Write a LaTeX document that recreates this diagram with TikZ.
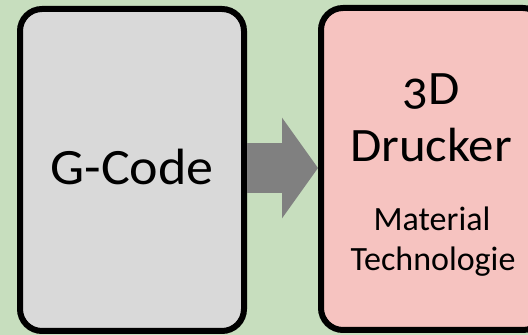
\documentclass[tikz,border=0pt]{standalone}
\usepackage{fontspec}
\setmainfont{Carlito}
\usetikzlibrary{arrows.meta}
\definecolor{bggreen}{HTML}{C7DEBE}
\definecolor{boxgray}{HTML}{D9D9D9}
\definecolor{boxpink}{HTML}{F6C3C0}
\definecolor{arrowgray}{HTML}{808080}
\newcommand{\widetext}[1]{\scalebox{1.06}[1]{#1}}
\tikzset{
  stage/.style={draw=black, line width=6pt, rounded corners=22pt,
    minimum width=224pt, inner sep=0pt},
  label/.style={anchor=base, inner sep=0pt, text=black},
  flow/.style={draw=arrowgray, line width=50pt,
    -{Triangle[length=36pt, width=99pt]}},
}
\begin{document}
\begin{tikzpicture}[x=1pt, y=1pt]
  \useasboundingbox (0,0) rectangle (528,335);
  \clip (0,0) rectangle (528,335);
  \fill[bggreen] (0,0) rectangle (528,335);

  % input box
  \node[stage, fill=boxgray, minimum height=322pt] (gcode) at (132,165) {};
  \node[label, font=\fontsize{51}{60}\selectfont] (tgcode) at (132,150) {\widetext{G-Code}};

  % printer box, partly off the right edge
  \node[stage, fill=boxpink, minimum height=322pt] (printer) at (433,166) {};

  \node[label, font=\fontsize{48}{57}\selectfont\addfontfeatures{Numbers=OldStyle}]
    (t3d) at (431,230) {\widetext{3D}};
  \node[label, font=\fontsize{48}{57}\selectfont] (tdrucker) at (431,173) {\widetext{Drucker}};
  \node[label, font=\fontsize{34}{40}\selectfont] (tmat) at (432,104) {Material};
  \node[label, font=\fontsize{34}{40}\selectfont] (ttech) at (433,64) {Technologie};

  % data flow into the printer
  \draw[flow] (gcode.east |- 0,167) -- (printer.west |- 0,167);
\end{tikzpicture}
\end{document}
